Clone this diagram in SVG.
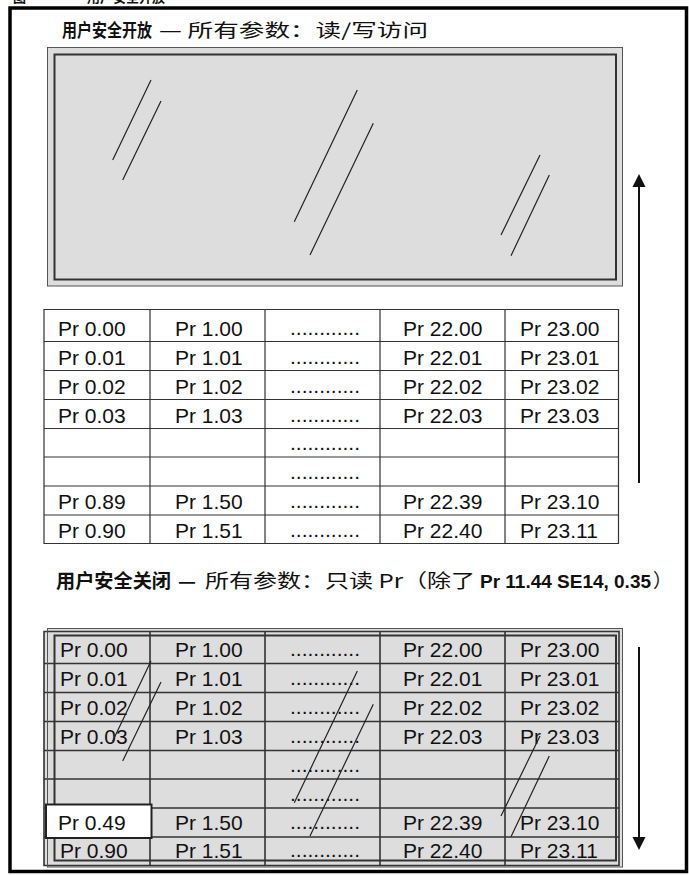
<svg xmlns="http://www.w3.org/2000/svg" width="689" height="875" viewBox="0 0 689 875">
<style>
text{font-family:"Liberation Sans",Arial,"Noto Sans CJK SC",sans-serif;fill:#111}
.cj{font-family:"Noto Sans CJK SC","Liberation Sans",sans-serif}
.b{font-weight:bold}
.t{font-size:21px}
.grid{stroke:#333;stroke-width:1.2;fill:none}
.gridb{stroke:#333;stroke-width:1.6;fill:none}
.gl{stroke:#222;stroke-width:1.2;fill:none}
.go{fill:none;stroke:#555;stroke-width:1}
.gi{fill:none;stroke:#333;stroke-width:2}
.arr{stroke:#111;stroke-width:2;fill:none}
</style>
<defs>
<marker id="ah" markerUnits="userSpaceOnUse" markerWidth="14" markerHeight="14" refX="7" refY="7" orient="auto"><path d="M0,0.5 L13,7 L0,13.5Z" fill="#111"/></marker>
<g id="glassFrame">
<rect class="go" x="47.5" y="47.5" width="575" height="238.5"/>
<rect class="gi" x="54.5" y="54.5" width="561.5" height="225"/>
<path class="gl" d="M151,80L112.7,160M161,101L122.7,180M357.3,90L294.3,221.7M373.3,123.3L310,255M540,155L501,235M549.3,175L511,255.7"/>
</g>
</defs>
<rect width="689" height="875" fill="#fff"/>
<g id="caption">
<text class="cj b" x="13" y="2" font-size="13">图</text>
<text class="cj b" x="87" y="2" font-size="13">用户安全开放</text>
</g>
<rect id="frame" x="10" y="8" width="676.5" height="863.5" fill="none" stroke="#000" stroke-width="3.5"/>
<g id="header-open">
<text class="cj b" font-size="18" transform="translate(62,37) scale(0.833,1)">用户安全开放</text>
<text class="cj" x="159" y="37" font-size="18" textLength="269" lengthAdjust="spacingAndGlyphs">— 所有参数：读/写访问</text>
</g>
<g id="glass-top">
<rect x="47.5" y="47.5" width="575" height="238.5" fill="#dddddd"/>
<use href="#glassFrame"/>
</g>
<g id="table-open" class="t">
<path class="grid" d="M44,309.5H618.5V543.5H44Z M150,309.5V543.5 M265,309.5V543.5 M380,309.5V543.5 M505,309.5V543.5 M44,341.5H618.5 M44,370.5H618.5 M44,399.5H618.5 M44,428.5H618.5 M44,457H618.5 M44,486H618.5 M44,515H618.5"/>
<text x="58" y="335.5">Pr 0.00</text><text x="175" y="335.5">Pr 1.00</text><text x="290" y="334.5">............</text><text x="403" y="335.5">Pr 22.00</text><text x="520" y="335.5">Pr 23.00</text>
<text x="58" y="364.5">Pr 0.01</text><text x="175" y="364.5">Pr 1.01</text><text x="290" y="363.5">............</text><text x="403" y="364.5">Pr 22.01</text><text x="520" y="364.5">Pr 23.01</text>
<text x="58" y="393.5">Pr 0.02</text><text x="175" y="393.5">Pr 1.02</text><text x="290" y="392.5">............</text><text x="403" y="393.5">Pr 22.02</text><text x="520" y="393.5">Pr 23.02</text>
<text x="58" y="422.5">Pr 0.03</text><text x="175" y="422.5">Pr 1.03</text><text x="290" y="421.5">............</text><text x="403" y="422.5">Pr 22.03</text><text x="520" y="422.5">Pr 23.03</text>
<text x="290" y="450">............</text>
<text x="290" y="479">............</text>
<text x="58" y="509">Pr 0.89</text><text x="175" y="509">Pr 1.50</text><text x="290" y="508">............</text><text x="403" y="509">Pr 22.39</text><text x="520" y="509">Pr 23.10</text>
<text x="58" y="537.5">Pr 0.90</text><text x="175" y="537.5">Pr 1.51</text><text x="290" y="536.5">............</text><text x="403" y="537.5">Pr 22.40</text><text x="520" y="537.5">Pr 23.11</text>
</g>
<g id="header-closed">
<text class="cj b" x="56" y="588" font-size="19" textLength="115" lengthAdjust="spacingAndGlyphs">用户安全关闭</text>
<text class="cj b" x="178" y="588" font-size="19" textLength="18" lengthAdjust="spacingAndGlyphs">—</text>
<text class="cj" x="205" y="588" font-size="19" textLength="270" lengthAdjust="spacingAndGlyphs">所有参数：只读 Pr（除了</text>
<text class="b" x="480" y="588" font-size="19" textLength="171" lengthAdjust="spacingAndGlyphs">Pr 11.44 SE14, 0.35</text>
<text class="cj" x="653" y="588" font-size="19">）</text>
</g>
<g id="table-closed" class="t">
<rect x="44" y="631.5" width="574.5" height="234" fill="#dddddd"/>
<rect x="47.5" y="628.5" width="575" height="238.5" fill="#dddddd"/>
<path class="gridb" d="M44,631.5H619V865.5H44Z M150,631.5V865.5 M265,631.5V865.5 M380,631.5V865.5 M505,631.5V865.5 M44,663.5H619 M44,692.5H619 M44,721.5H619 M44,750.5H619 M44,779H619 M44,808H619 M44,837H619"/>
<text x="60" y="657">Pr 0.00</text><text x="175" y="657">Pr 1.00</text><text x="290" y="656">............</text><text x="403" y="657">Pr 22.00</text><text x="520" y="657">Pr 23.00</text>
<text x="60" y="686">Pr 0.01</text><text x="175" y="686">Pr 1.01</text><text x="290" y="685">............</text><text x="403" y="686">Pr 22.01</text><text x="520" y="686">Pr 23.01</text>
<text x="60" y="715">Pr 0.02</text><text x="175" y="715">Pr 1.02</text><text x="290" y="714">............</text><text x="403" y="715">Pr 22.02</text><text x="520" y="715">Pr 23.02</text>
<text x="60" y="744">Pr 0.03</text><text x="175" y="744">Pr 1.03</text><text x="290" y="743">............</text><text x="403" y="744">Pr 22.03</text><text x="520" y="744">Pr 23.03</text>
<text x="290" y="772">............</text>
<text x="290" y="801">............</text>
<text x="175" y="829.5">Pr 1.50</text><text x="290" y="828.5">............</text><text x="403" y="829.5">Pr 22.39</text><text x="520" y="829.5">Pr 23.10</text>
<text x="60" y="858">Pr 0.90</text><text x="175" y="858">Pr 1.51</text><text x="290" y="857">............</text><text x="403" y="858">Pr 22.40</text><text x="520" y="858">Pr 23.11</text>
</g>
<g id="glass-bottom">
<use href="#glassFrame" y="581"/>
</g>
<g id="cell-049" class="t">
<rect x="46" y="804.5" width="105.5" height="33.5" fill="#fff" stroke="#222" stroke-width="2"/>
<text x="58" y="829.5">Pr 0.49</text>
</g>
<g id="connectors">
<path class="arr" d="M639,483V180" marker-end="url(#ah)"/>
<path class="arr" d="M639,647V844" marker-end="url(#ah)"/>
</g>
</svg>
